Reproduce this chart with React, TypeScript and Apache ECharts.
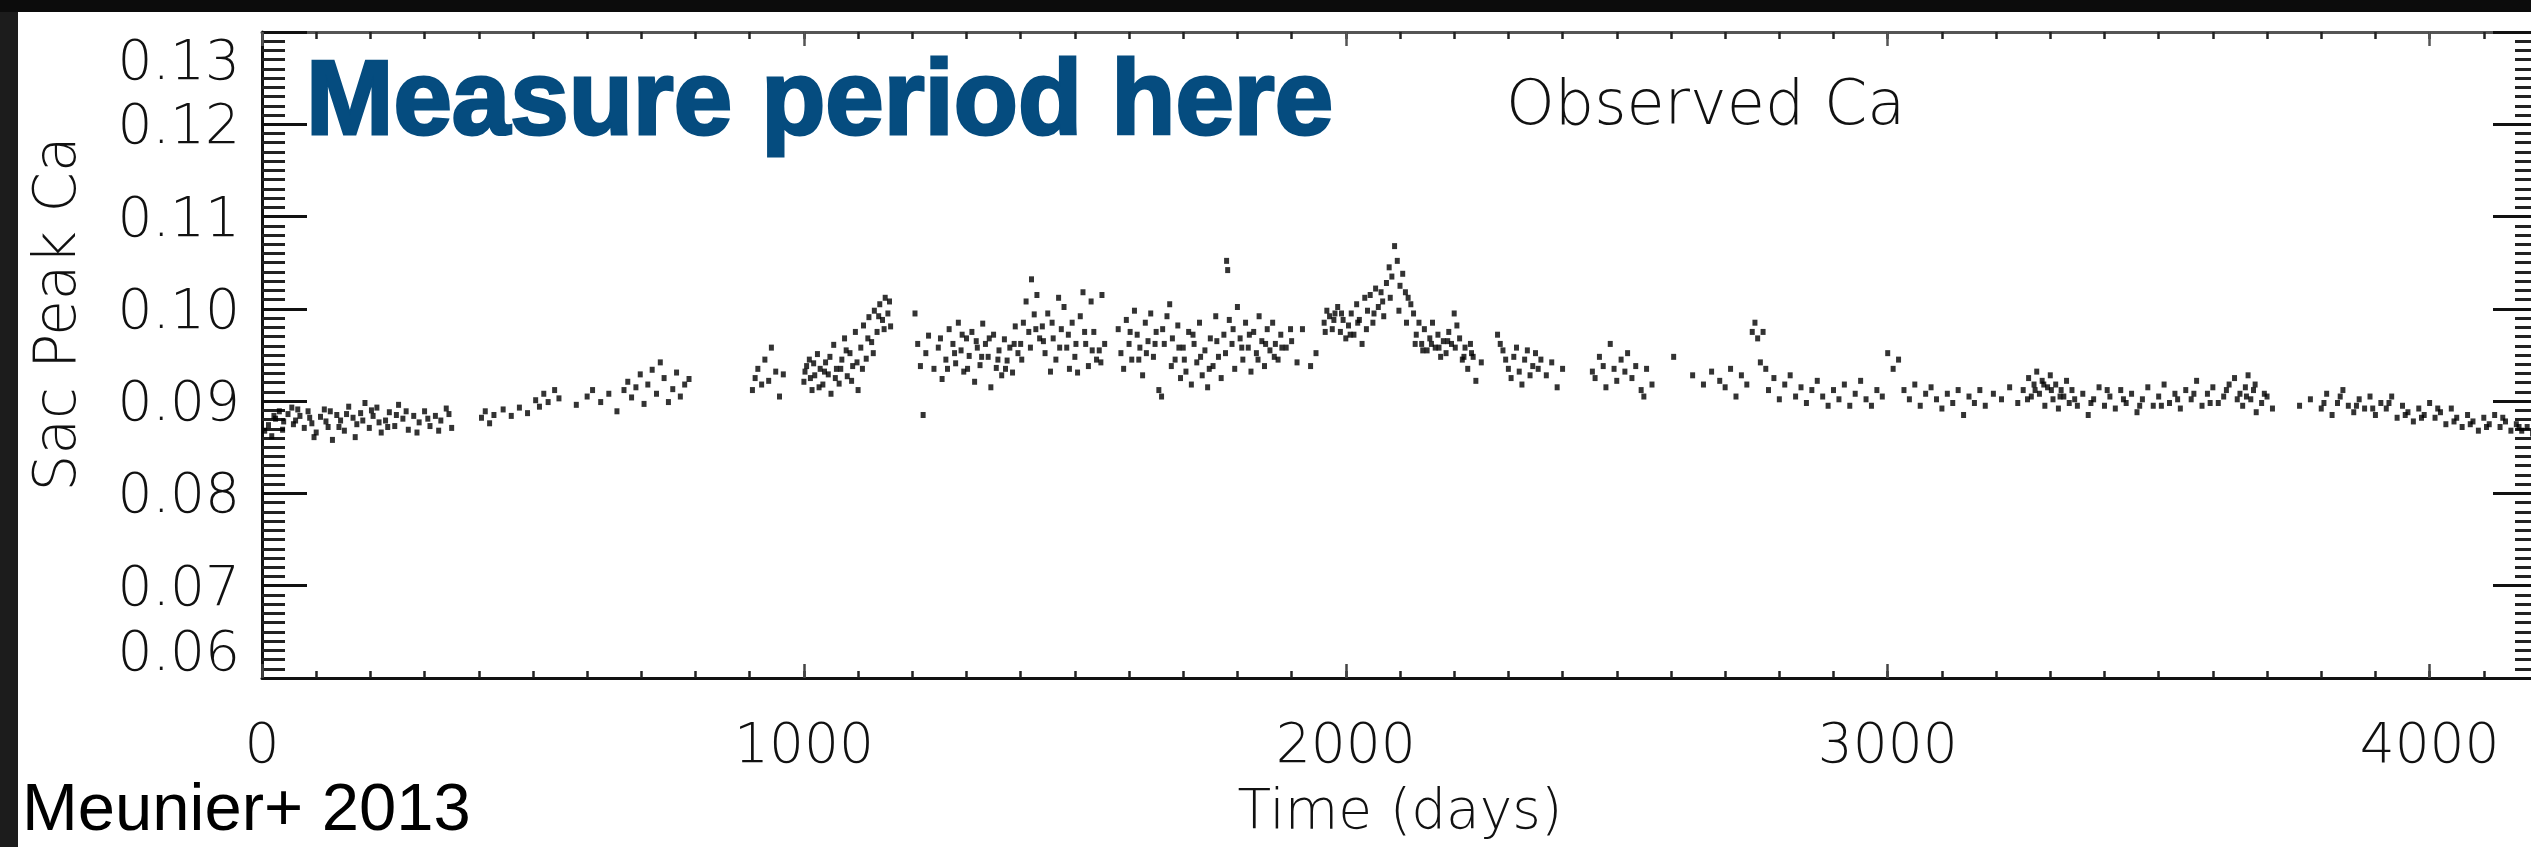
import React, { useEffect, useRef } from "react";
import * as echarts from "echarts";

// Observed Ca time series (day, Sac Peak Ca index)
const seg0to400: [number, number][] = [
  [5,0.0868],[12,0.0874],[18,0.0862],[25,0.0881],[32,0.0889],[40,0.0878],[48,0.0886],[55,0.0893],[62,0.0879],[70,0.0884],
  [78,0.0871],[85,0.0889],[92,0.0876],[100,0.0866],[108,0.0883],[115,0.0891],[122,0.0872],[130,0.0858],[138,0.0885],[145,0.0879],
  [152,0.0868],[160,0.0894],[168,0.0882],[175,0.0875],[182,0.0887],[190,0.0898],[198,0.0871],[205,0.0884],[212,0.0893],[220,0.0866],
  [228,0.0879],[235,0.0888],[245,0.0873],[252,0.0896],[260,0.0881],[270,0.0869],[280,0.0884],[290,0.0877],[300,0.0889],[310,0.0873],
  [320,0.0884],[330,0.0879],[340,0.0892],[350,0.0871],
  [22,0.0884],[38,0.0869],[58,0.0875],[66,0.0891],[88,0.0882],[96,0.0861],[118,0.0878],[126,0.0889],[142,0.0872],[156,0.0886],
  [172,0.0861],[186,0.0879],[202,0.0890],[216,0.0877],[232,0.0872],[248,0.0885],[266,0.0889],[286,0.0866],[306,0.0881],[326,0.0868],[345,0.0886]
];
const seg400to800: [number, number][] = [
  [405,0.0882],[412,0.0889],[420,0.0876],[428,0.0885],[445,0.0891],[460,0.0884],[475,0.0893],[490,0.0887],[505,0.0901],[512,0.0894],
  [520,0.0908],[528,0.0899],[540,0.0912],[548,0.0903],[580,0.0896],[600,0.0905],[610,0.0912],[625,0.0899],[640,0.0908],[655,0.0889],
  [668,0.0912],[675,0.0921],[682,0.0904],[690,0.0915],[698,0.0929],[705,0.0897],[712,0.0918],[720,0.0934],[728,0.0908],[735,0.0942],
  [742,0.0925],[750,0.0899],[758,0.0913],[765,0.0931],[772,0.0905],[780,0.0918],[788,0.0924]
];
const seg900to1200: [number, number][] = [
  [905,0.0912],[910,0.0925],[915,0.0935],[922,0.0918],[928,0.0945],[935,0.0922],[940,0.0958],[948,0.0932],[955,0.0905],[962,0.0929],
  [1000,0.0921],[1005,0.0938],[1010,0.0945],[1015,0.0912],[1020,0.0928],[1025,0.0951],[1030,0.0935],[1035,0.0918],[1040,0.0942],[1045,0.0929],
  [1050,0.0908],[1055,0.0961],[1060,0.0935],[1065,0.0919],[1070,0.0945],[1075,0.0968],[1080,0.0927],[1085,0.0952],[1090,0.0938],[1095,0.0975],
  [1100,0.0912],[1105,0.0958],[1110,0.0982],[1115,0.0946],[1120,0.0991],[1125,0.0964],[1130,0.0998],[1135,0.0975],[1140,0.1005],[1145,0.0988],
  [1150,0.1012],[1155,0.0995],[1160,0.0981],
  [1002,0.0932],[1012,0.0925],[1018,0.0941],[1028,0.0915],[1038,0.0932],[1048,0.0948],[1058,0.0925],[1068,0.0935],[1078,0.0955],[1088,0.0922],
  [1098,0.0942],[1108,0.0935],[1118,0.0968],[1128,0.0952],[1138,0.0992],[1148,0.0978],[1158,0.1008]
];
const seg1200to1400: [number, number][] = [
  [1205,0.0995],[1210,0.0962],[1215,0.0938],[1220,0.0885],[1225,0.0952],[1230,0.0971],[1240,0.0935],[1248,0.0958],[1255,0.0924],[1262,0.0945],
  [1268,0.0978],[1275,0.0962],[1280,0.0941],[1285,0.0985],[1290,0.0955],[1295,0.0932],[1300,0.0968],[1305,0.0949],[1310,0.0975],[1315,0.0921],
  [1320,0.0958],[1325,0.0939],[1330,0.0984],[1335,0.0962],[1340,0.0948],[1345,0.0915],[1350,0.0972],[1355,0.0936],[1360,0.0955],[1365,0.0928],
  [1370,0.0967],[1375,0.0944],[1380,0.0958],[1385,0.0931],[1390,0.0981],[1395,0.0952],
  [1252,0.0968],[1265,0.0935],[1278,0.0952],[1292,0.0972],[1302,0.0935],[1318,0.0965],[1328,0.0948],[1342,0.0968],[1358,0.0945],[1372,0.0935],[1388,0.0962]
];
const seg1400to1700: [number, number][] = [
  [1400,0.0962],[1405,0.0985],[1410,0.1008],[1415,0.0975],[1420,0.1032],[1425,0.0994],[1430,0.1015],[1435,0.0968],[1440,0.0981],[1445,0.0952],
  [1450,0.0995],[1455,0.0932],[1460,0.0968],[1465,0.0945],[1470,0.1012],[1475,0.0978],[1480,0.1002],[1485,0.0958],[1490,0.0935],[1495,0.0985],
  [1500,0.0948],[1505,0.0931],[1510,0.0992],[1515,0.1018],[1520,0.0962],[1525,0.0938],[1530,0.1008],[1535,0.0975],[1540,0.0945],[1545,0.0955],
  [1550,0.1015],[1555,0.0962],[1580,0.0978],[1585,0.0952],[1590,0.0935],[1595,0.0988],[1600,0.0962],[1605,0.0945],[1610,0.0998],[1615,0.0972],
  [1620,0.0958],[1625,0.0928],[1630,0.0985],[1635,0.0965],[1640,0.0995],[1645,0.0948],[1650,0.0975],[1655,0.0912],[1660,0.0905],[1665,0.0962],
  [1670,0.0992],[1675,0.1005],[1680,0.0968],[1685,0.0945],[1690,0.0982],[1695,0.0925],
  [1402,0.0945],[1418,0.0958],[1428,0.0978],[1442,0.0965],[1458,0.0985],[1472,0.0958],[1488,0.0972],[1502,0.0962],[1518,0.0975],[1532,0.0955],
  [1548,0.0942],[1602,0.0975],[1618,0.0945],[1632,0.0952],[1648,0.0962],[1662,0.0978],[1678,0.0938],[1692,0.0958]
];
const seg1700to1960: [number, number][] = [
  [1700,0.0958],[1705,0.0932],[1710,0.0975],[1715,0.0918],[1720,0.0962],[1725,0.0942],[1730,0.0985],[1735,0.0928],[1740,0.0955],[1745,0.0915],
  [1750,0.0968],[1755,0.0938],[1760,0.0992],[1765,0.0948],[1770,0.0925],[1775,0.0972],[1780,0.1052],[1782,0.1042],[1785,0.0988],[1790,0.0962],
  [1795,0.0935],[1800,0.1002],[1805,0.0968],[1810,0.0945],[1815,0.0985],[1820,0.0958],[1825,0.0932],[1830,0.0975],[1835,0.0952],[1840,0.0992],
  [1845,0.0965],[1850,0.0938],[1855,0.0978],[1860,0.0955],[1865,0.0985],[1870,0.0962],[1875,0.0945],[1880,0.0972],[1890,0.0958],[1900,0.0965],
  [1910,0.0942],[1920,0.0978],[1935,0.0938],[1945,0.0952],
  [1702,0.0945],[1718,0.0972],[1732,0.0948],[1748,0.0935],[1762,0.0965],[1778,0.0952],[1792,0.0978],[1808,0.0958],[1822,0.0972],[1838,0.0945],
  [1852,0.0962],[1868,0.0948],[1882,0.0958],[1898,0.0978]
];
const seg1960to2260: [number, number][] = [
  [1960,0.0985],[1965,0.0998],[1970,0.0992],[1975,0.0978],[1980,0.0995],[1985,0.1002],[1990,0.0975],[1995,0.0988],[2000,0.0968],[2005,0.0982],
  [2010,0.0995],[2015,0.0972],[2020,0.1005],[2025,0.0988],[2030,0.0962],[2035,0.1012],[2040,0.0998],[2045,0.1015],[2050,0.0985],[2055,0.1022],
  [2060,0.1002],[2065,0.1018],[2070,0.0992],[2075,0.1028],[2080,0.1045],[2085,0.1035],[2090,0.1068],[2095,0.1052],[2100,0.1025],[2105,0.1038],
  [2110,0.1018],[2115,0.1012],[2120,0.1005],[2125,0.0995],[2130,0.0972],[2135,0.0985],[2140,0.0962],[2145,0.0978],[2150,0.0955],[2155,0.0968],
  [2160,0.0985],[2165,0.0958],[2170,0.0972],[2175,0.0948],[2180,0.0965],[2185,0.0952],[2190,0.0975],[2195,0.0962],[2200,0.0995],[2205,0.0982],
  [2210,0.0968],[2215,0.0945],[2220,0.0958],[2225,0.0935],[2230,0.0962],[2235,0.0948],[2240,0.0922],[2250,0.0942],
  [1962,0.0975],[1978,0.0988],[1992,0.0995],[2008,0.0972],[2022,0.0985],[2038,0.0978],[2052,0.0995],[2068,0.1008],[2082,0.1012],[2098,0.0998],
  [2112,0.0985],[2128,0.0962],[2142,0.0955],[2158,0.0962],[2172,0.0958],[2188,0.0965],[2202,0.0958],[2218,0.0948],[2232,0.0952]
];
const seg2260to2600: [number, number][] = [
  [2280,0.0972],[2285,0.0962],[2290,0.0955],[2295,0.0945],[2300,0.0935],[2305,0.0925],[2310,0.0948],[2315,0.0958],[2320,0.0932],[2325,0.0918],
  [2330,0.0945],[2335,0.0955],[2340,0.0928],[2345,0.0938],[2350,0.0952],[2355,0.0935],[2360,0.0945],[2370,0.0928],[2380,0.0942],[2390,0.0915],
  [2400,0.0935],[2455,0.0932],[2460,0.0925],[2468,0.0948],[2475,0.0938],[2480,0.0915],[2488,0.0962],[2495,0.0935],[2500,0.0922],[2508,0.0945],
  [2515,0.0932],[2520,0.0952],[2528,0.0925],[2535,0.0938],[2545,0.0912],[2550,0.0905],[2555,0.0935],[2565,0.0918]
];
const seg2600to3000: [number, number][] = [
  [2605,0.0948],[2640,0.0928],[2660,0.0918],[2675,0.0932],[2690,0.0922],[2700,0.0915],[2710,0.0935],[2720,0.0905],[2730,0.0928],[2740,0.0918],
  [2750,0.0975],[2755,0.0985],[2760,0.0968],[2765,0.0942],[2770,0.0975],[2775,0.0935],[2780,0.0912],[2790,0.0925],[2800,0.0902],[2810,0.0918],
  [2820,0.0928],[2830,0.0905],[2840,0.0915],[2850,0.0898],[2860,0.0912],[2870,0.0922],[2880,0.0905],[2890,0.0895],[2900,0.0912],[2910,0.0902],
  [2920,0.0918],[2930,0.0895],[2940,0.0908],[2950,0.0922],[2960,0.0902],[2970,0.0895],[2980,0.0912],[2990,0.0905]
];
const seg3000to3500: [number, number][] = [
  [3000,0.0952],[3010,0.0935],[3020,0.0945],[3030,0.0912],[3040,0.0902],[3050,0.0918],[3060,0.0895],[3070,0.0908],[3080,0.0915],[3090,0.0902],
  [3100,0.0892],[3110,0.0908],[3120,0.0898],[3130,0.0912],[3140,0.0885],[3150,0.0905],[3160,0.0898],[3170,0.0912],[3180,0.0895],[3195,0.0908],
  [3210,0.0902],[3225,0.0915],[3240,0.0898],[3250,0.0912],[3260,0.0925],[3265,0.0905],[3270,0.0918],[3275,0.0932],[3280,0.0908],[3285,0.0922],
  [3290,0.0895],[3295,0.0915],[3300,0.0928],[3305,0.0902],[3310,0.0918],[3315,0.0892],[3320,0.0912],[3325,0.0905],[3330,0.0922],[3335,0.0898],
  [3340,0.0912],[3350,0.0895],[3360,0.0908],[3370,0.0885],[3380,0.0902],[3390,0.0915],[3400,0.0895],[3410,0.0905],[3420,0.0892],[3430,0.0912],
  [3440,0.0898],[3450,0.0908],[3460,0.0888],[3470,0.0902],[3480,0.0915],[3490,0.0895],
  [3258,0.0902],[3272,0.0912],[3288,0.0918],[3302,0.0912],[3318,0.0905],[3345,0.0902],[3375,0.0898],[3405,0.0912],[3435,0.0902],[3465,0.0895]
];
const seg3500to4200: [number, number][] = [
  [3500,0.0905],[3510,0.0918],[3520,0.0898],[3530,0.0908],[3540,0.0892],[3550,0.0912],[3560,0.0902],[3570,0.0922],[3580,0.0895],[3590,0.0908],
  [3600,0.0915],[3610,0.0898],[3620,0.0905],[3630,0.0918],[3640,0.0925],[3650,0.0908],[3655,0.0895],[3660,0.0915],[3665,0.0928],[3670,0.0902],
  [3675,0.0912],[3680,0.0888],[3690,0.0898],[3700,0.0905],[3710,0.0892],[3760,0.0895],[3780,0.0902],[3800,0.0892],[3810,0.0908],[3820,0.0885],
  [3830,0.0898],[3840,0.0912],[3850,0.0895],[3860,0.0888],[3870,0.0902],[3880,0.0892],[3890,0.0905],[3900,0.0885],[3910,0.0898],[3920,0.0892],
  [3930,0.0905],[3940,0.0882],[3950,0.0895],[3960,0.0888],[3970,0.0878],[3980,0.0892],[3990,0.0885],[4000,0.0898],[4010,0.0882],[4020,0.0888],
  [4030,0.0875],[4040,0.0892],[4050,0.0882],[4060,0.0872],[4070,0.0885],[4080,0.0878],[4090,0.0868],[4100,0.0882],[4110,0.0875],[4120,0.0885],
  [4130,0.0872],[4140,0.0878],[4150,0.0868],[4160,0.0875],[4170,0.0868],[4180,0.0872],[4190,0.0865],
  [3505,0.0895],[3535,0.0902],[3565,0.0908],[3595,0.0898],[3625,0.0912],[3645,0.0902],[3662,0.0905],[3678,0.0918],[3695,0.0908],
  [3805,0.0898],[3835,0.0905],[3865,0.0895],[3895,0.0892],[3925,0.0898],[3955,0.0885],[3985,0.0882],[4015,0.0892],[4045,0.0878],[4075,0.0875],
  [4105,0.0872],[4135,0.0882],[4165,0.0872]
];

const observedCa: [number, number][] = [
  ...seg0to400, ...seg400to800, ...seg900to1200, ...seg1200to1400, ...seg1400to1700,
  ...seg1700to1960, ...seg1960to2260, ...seg2260to2600, ...seg2600to3000, ...seg3000to3500, ...seg3500to4200
];

const xMin = 0;
const xMax = 4200;
const xMajor = 1000;
const xMinor = 100;
const xTickLabels = ["0", "1000", "2000", "3000", "4000"];
const yMin = 0.06;
const yMax = 0.13;
const yMajor = 0.01;
const yTickLabels = ["0.06", "0.07", "0.08", "0.09", "0.10", "0.11", "0.12", "0.13"];

const AXIS_FONT = "'DejaVu Sans', sans-serif";

export default function App() {
  const ref = useRef<HTMLDivElement>(null);
  useEffect(() => {
    document.body.style.margin = "0";
    const chart = echarts.init(ref.current!, null, { renderer: "svg" });
    const labelStyle = { fontFamily: AXIS_FONT, fontSize: 55, fontWeight: 200 as any, color: "#111" };
    const hidden = { show: false };
    chart.setOption({
      animation: false,
      backgroundColor: "#ffffff",
      grid: { left: 262, top: 32, right: -7, bottom: 169, containLabel: false, outerBoundsMode: "none" },
      xAxis: [
        {
          type: "value", position: "bottom", min: xMin, max: xMax, interval: xMinor,
          axisLine: { show: true, onZero: false, lineStyle: { color: "#111", width: 3 } },
          axisTick: { show: true, inside: true, length: 7, lineStyle: { color: "#222", width: 2.5 } },
          axisLabel: hidden, splitLine: hidden,
        },
        {
          type: "value", position: "bottom", min: xMin, max: xMax, interval: xMajor,
          axisLine: { show: false, onZero: false },
          axisTick: { show: true, inside: true, length: 14, lineStyle: { color: "#444", width: 2.5 } },
          axisLabel: {
            ...labelStyle, margin: 37, showMaxLabel: false,
            formatter: (v: number) => xTickLabels[Math.round(v / xMajor)] ?? "",
          },
          splitLine: hidden,
          name: "Time (days)", nameLocation: "middle", nameGap: 103,
          nameTextStyle: { ...labelStyle },
        },
        {
          type: "value", position: "top", min: xMin, max: xMax, interval: xMinor,
          axisLine: { show: true, onZero: false, lineStyle: { color: "#555", width: 3 } },
          axisTick: { show: true, inside: true, length: 7, lineStyle: { color: "#222", width: 2.5 } },
          axisLabel: hidden, splitLine: hidden,
        },
        {
          type: "value", position: "top", min: xMin, max: xMax, interval: xMajor,
          axisLine: { show: false, onZero: false },
          axisTick: { show: true, inside: true, length: 14, lineStyle: { color: "#555", width: 2.5 } },
          axisLabel: hidden, splitLine: hidden,
        },
      ],
      yAxis: [
        {
          type: "value", position: "left", min: yMin, max: yMax, interval: yMajor,
          axisLine: { show: true, onZero: false, lineStyle: { color: "#111", width: 3 } },
          axisTick: { show: true, inside: true, length: 45, lineStyle: { color: "#111", width: 3 } },
          minorTick: { show: true, splitNumber: 10, length: 23, lineStyle: { color: "#222", width: 3 } },
          axisLabel: {
            ...labelStyle, margin: 22,
            verticalAlignMinLabel: "bottom", verticalAlignMaxLabel: "top",
            formatter: (v: number) => yTickLabels[Math.round((v - yMin) / yMajor)] ?? "",
          },
          splitLine: hidden, minorSplitLine: hidden,
        },
        {
          type: "value", position: "right", min: yMin, max: yMax, interval: yMajor,
          axisLine: { show: true, onZero: false, lineStyle: { color: "#111", width: 3 } },
          axisTick: { show: true, inside: true, length: 45, lineStyle: { color: "#111", width: 3 } },
          minorTick: { show: true, splitNumber: 10, length: 23, lineStyle: { color: "#222", width: 3 } },
          axisLabel: hidden, splitLine: hidden, minorSplitLine: hidden,
        },
      ],
      series: [
        {
          type: "scatter", name: "Observed Ca", xAxisIndex: 0, yAxisIndex: 0,
          data: observedCa, symbol: "rect", symbolSize: [5, 6],
          itemStyle: { color: "#000" }, silent: true,
        },
      ],
      graphic: [
        { type: "rect", shape: { x: 0, y: 0, width: 18, height: 847 }, style: { fill: "#1c1c1c" }, z: 100 },
        { type: "rect", shape: { x: 0, y: 0, width: 2531, height: 12 }, style: { fill: "#0c0c0c" }, z: 101 },
        {
          type: "text", x: 306, y: 97, z: 50,
          style: {
            text: "Measure period here", fill: "#054c7f", stroke: "#054c7f", lineWidth: 3,
            font: "bold 105px 'Liberation Sans', Arial, sans-serif", align: "left", verticalAlign: "middle",
          },
        },
        {
          type: "text", x: 1506, y: 102, z: 50,
          style: { text: "Observed Ca", fill: "#111", font: `200 62px ${AXIS_FONT}`, align: "left", verticalAlign: "middle" },
        },
        {
          type: "text", x: 55, y: 314, rotation: Math.PI / 2, z: 50,
          style: { text: "Sac Peak Ca", fill: "#111", font: `200 58px ${AXIS_FONT}`, align: "center", verticalAlign: "middle" },
        },
        {
          type: "text", x: 22, y: 840, z: 50,
          style: { text: "Meunier+ 2013", fill: "#000", font: "67px 'Liberation Sans', Arial, sans-serif", align: "left", verticalAlign: "bottom" },
        },
      ],
    });
    return () => chart.dispose();
  }, []);
  return <div ref={ref} style={{ width: 2531, height: 847 }} />;
}
